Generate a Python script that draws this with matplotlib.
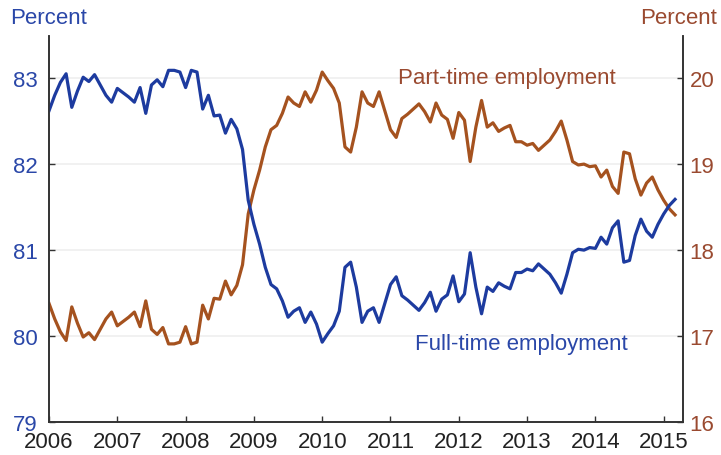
import numpy as np
import matplotlib
matplotlib.use("Agg")
import matplotlib.pyplot as plt

# MONTHLY SHARES, JAN 2006 - MAR 2015
full_time = [
    82.62, 82.80, 82.95, 83.05, 82.66, 82.85, 83.01, 82.96, 83.04, 82.92, 82.80, 82.72,
    82.88, 82.83, 82.78, 82.72, 82.89, 82.59, 82.92, 82.98, 82.90, 83.09, 83.09, 83.07,
    82.89, 83.09, 83.07, 82.64, 82.80, 82.56, 82.57, 82.36, 82.52, 82.41, 82.17, 81.58,
    81.30, 81.07, 80.80, 80.60, 80.55, 80.41, 80.22, 80.29, 80.33, 80.16, 80.28, 80.14,
    79.93, 80.03, 80.12, 80.29, 80.80, 80.86, 80.57, 80.16, 80.29, 80.33, 80.16, 80.38,
    80.60, 80.69, 80.47, 80.42, 80.36, 80.30, 80.39, 80.51, 80.29, 80.43, 80.48, 80.70,
    80.40, 80.49, 80.97, 80.57, 80.26, 80.57, 80.52, 80.62, 80.58, 80.55, 80.74, 80.74,
    80.78, 80.76, 80.84, 80.78, 80.72, 80.62, 80.50, 80.72, 80.97, 81.01, 81.00, 81.03,
    81.02, 81.15, 81.07, 81.26, 81.34, 80.86, 80.88, 81.17, 81.36, 81.22, 81.15, 81.30,
    81.42, 81.52, 81.59,
]
part_time = [
    17.38, 17.20, 17.05, 16.95, 17.34, 17.15, 16.99, 17.04, 16.96, 17.08, 17.20, 17.28,
    17.12, 17.17, 17.22, 17.28, 17.11, 17.41, 17.08, 17.02, 17.10, 16.91, 16.91, 16.93,
    17.11, 16.91, 16.93, 17.36, 17.20, 17.44, 17.43, 17.64, 17.48, 17.59, 17.83, 18.42,
    18.70, 18.93, 19.20, 19.40, 19.45, 19.59, 19.78, 19.71, 19.67, 19.84, 19.72, 19.86,
    20.07, 19.97, 19.88, 19.71, 19.20, 19.14, 19.43, 19.84, 19.71, 19.67, 19.84, 19.62,
    19.40, 19.31, 19.53, 19.58, 19.64, 19.70, 19.61, 19.49, 19.71, 19.57, 19.52, 19.30,
    19.60, 19.51, 19.03, 19.43, 19.74, 19.43, 19.48, 19.38, 19.42, 19.45, 19.26, 19.26,
    19.22, 19.24, 19.16, 19.22, 19.28, 19.38, 19.50, 19.28, 19.03, 18.99, 19.00, 18.97,
    18.98, 18.85, 18.93, 18.74, 18.66, 19.14, 19.12, 18.83, 18.64, 18.78, 18.85, 18.70,
    18.58, 18.48, 18.41,
]
year_ticks = [2006, 2007, 2008, 2009, 2010, 2011, 2012, 2013, 2014, 2015]
left_ticks = [79, 80, 81, 82, 83]
right_ticks = [16, 17, 18, 19, 20]

BLUE = '#1d3b9f'
BLUE_TXT = '#2a47a8'
BROWN = '#a5521f'
BROWN_TXT = '#9a4a30'

plt.rcParams['font.family'] = ['Liberation Sans', 'DejaVu Sans']


def main():
    x = 2006 + np.arange(len(full_time)) / 12.0

    fig = plt.figure(figsize=(7.21, 4.56), dpi=100)
    ax = fig.add_axes([0.068, 0.072, 0.879, 0.847])
    ax2 = ax.twinx()
    ax.set_zorder(ax2.get_zorder() + 1)
    ax.patch.set_visible(False)

    ax.plot(x, full_time, color=BLUE, lw=2.3, solid_joinstyle='round')
    ax2.plot(x, part_time, color=BROWN, lw=2.3, solid_joinstyle='round')

    ax.set_xlim(2006, 2015.28)
    ax.set_ylim(79, 83.49)
    ax2.set_ylim(16, 20.49)

    ax.set_xticks(year_ticks)
    ax.set_xticklabels([str(y) for y in year_ticks])
    ax.set_yticks(left_ticks)
    ax2.set_yticks(right_ticks)

    # faint gridlines
    for v in right_ticks[1:]:
        ax2.axhline(v, color='#efefef', lw=1.2, zorder=0)

    for a in (ax, ax2):
        a.spines['top'].set_visible(False)
        for s in ('left', 'right', 'bottom'):
            a.spines[s].set_color('#333333')
            a.spines[s].set_linewidth(1.2)

    ax.tick_params(axis='x', direction='in', length=4, width=1, colors='#333333',
                   labelcolor='#222222', labelsize=16, pad=6)
    ax.tick_params(axis='y', direction='in', length=4, width=1, colors='#333333',
                   labelcolor=BLUE_TXT, labelsize=16, pad=8)
    ax2.tick_params(axis='y', direction='in', length=4, width=1, colors='#333333',
                    labelcolor=BROWN_TXT, labelsize=16, pad=5)

    fig.text(0.014, 0.96, 'Percent', color=BLUE_TXT, fontsize=16, ha='left', va='center')
    fig.text(0.995, 0.96, 'Percent', color=BROWN_TXT, fontsize=16, ha='right', va='center')

    ax.text(2011.11, 83.01, 'Part-time employment', color=BROWN_TXT, fontsize=16,
            ha='left', va='center')
    ax.text(2011.36, 79.91, 'Full-time employment', color=BLUE_TXT, fontsize=16,
            ha='left', va='center')

    fig.savefig('out.png', dpi=100)


if __name__ == "__main__":
    main()
